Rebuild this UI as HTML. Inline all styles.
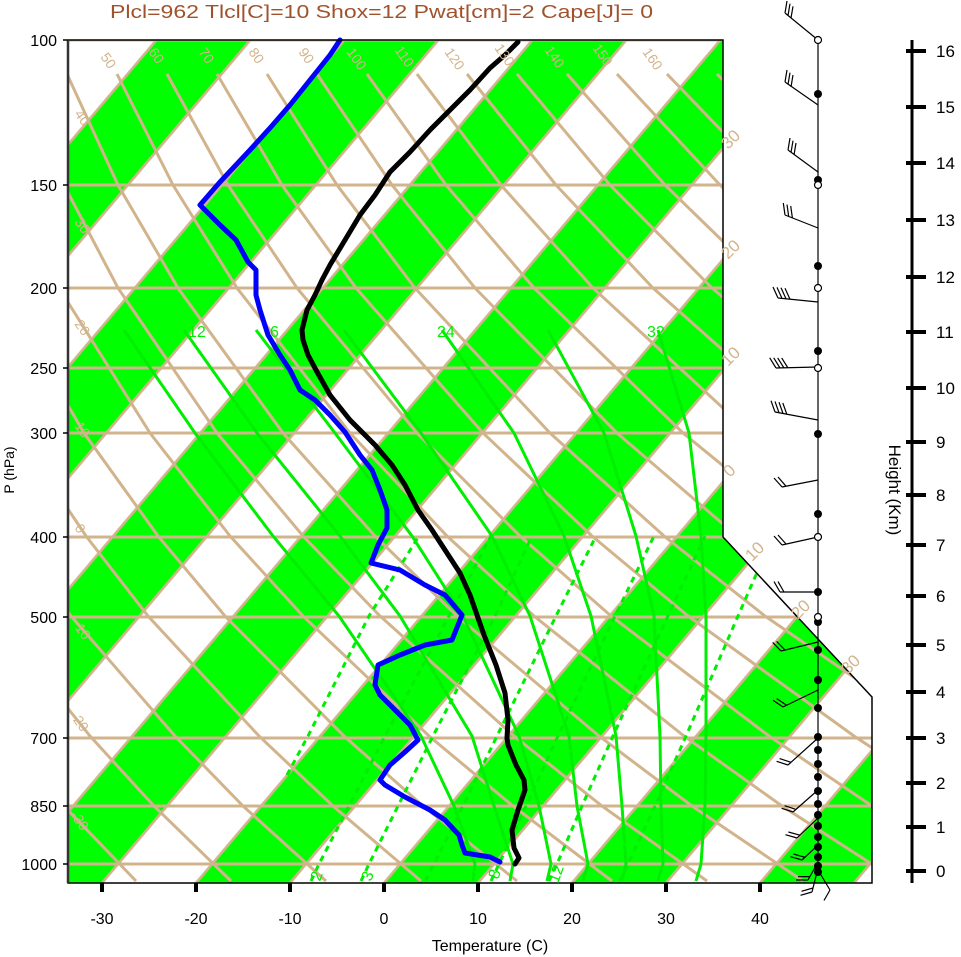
<!DOCTYPE html>
<html><head><meta charset="utf-8"><style>
html,body{margin:0;padding:0;background:#fff;}
svg{display:block;font-family:"Liberation Sans",sans-serif;}
</style></head><body>
<svg width="961" height="957" viewBox="0 0 961 957" xmlns="http://www.w3.org/2000/svg">
<defs>
<clipPath id="cp"><polygon points="68,40 723,40 723,537 872,697 872,883 68,883"/></clipPath>
<pattern id="band" patternUnits="userSpaceOnUse" x="0" y="0" width="188" height="20" patternTransform="translate(384,883) skewX(-40.2)"><rect x="0" y="0" width="94" height="20" fill="#00ff00"/></pattern>
<pattern id="iso" patternUnits="userSpaceOnUse" x="0" y="0" width="94" height="20" patternTransform="translate(384,883) skewX(-40.2)"><rect x="0" y="0" width="1.7" height="20" fill="#d2b48c"/><rect x="92.3" y="0" width="1.7" height="20" fill="#d2b48c"/></pattern>
</defs>
<rect width="961" height="957" fill="#fff"/>
<g clip-path="url(#cp)">
<rect x="60" y="30" width="820" height="860" fill="url(#band)"/>
<rect x="60" y="30" width="820" height="860" fill="url(#iso)"/>
<g fill="none" stroke="#d2b48c" stroke-width="3">
<polyline points="40,881 -26,806 -80,736 -160,616 -204,536 -250,433 -297,288 -319,185 -334,74"/>
<polyline points="136,881 64,806 5,736 -83,616 -131,536 -183,433 -238,288 -265,185 -284,74"/>
<polyline points="231,881 154,806 90,736 -6,616 -59,536 -117,433 -178,288 -210,185 -234,74"/>
<polyline points="326,881 243,806 175,736 71,616 13,536 -50,433 -119,288 -155,185 -184,74"/>
<polyline points="421,881 333,806 259,736 148,616 86,536 17,433 -60,288 -100,185 -134,74"/>
<polyline points="517,881 423,806 344,736 225,616 158,536 84,433 0,288 -46,185 -84,74"/>
<polyline points="612,881 513,806 429,736 303,616 230,536 150,433 59,288 9,185 -33,74"/>
<polyline points="707,881 602,806 514,736 380,616 303,536 217,433 118,288 64,185 17,74"/>
<polyline points="803,881 692,806 599,736 457,616 375,536 283,433 178,288 118,185 67,74"/>
<polyline points="898,881 782,806 684,736 534,616 447,536 350,433 237,288 173,185 117,74"/>
<polyline points="993,881 872,806 769,736 611,616 520,536 417,433 297,288 228,185 167,74"/>
<polyline points="1089,881 961,806 854,736 688,616 592,536 483,433 356,288 282,185 217,74"/>
<polyline points="1184,881 1051,806 939,736 765,616 664,536 550,433 415,288 337,185 267,74"/>
<polyline points="1279,881 1141,806 1023,736 842,616 737,536 617,433 475,288 392,185 317,74"/>
<polyline points="1374,881 1230,806 1108,736 919,616 809,536 683,433 534,288 446,185 367,74"/>
<polyline points="1470,881 1320,806 1193,736 996,616 882,536 750,433 593,288 501,185 417,74"/>
<polyline points="1565,881 1410,806 1278,736 1073,616 954,536 816,433 653,288 556,185 467,74"/>
<polyline points="1660,881 1500,806 1363,736 1150,616 1026,536 883,433 712,288 610,185 517,74"/>
<polyline points="1756,881 1589,806 1448,736 1227,616 1098,536 950,433 771,288 665,185 567,74"/>
<polyline points="1851,881 1679,806 1533,736 1304,616 1171,536 1016,433 831,288 720,185 617,74"/>
<polyline points="1946,881 1769,806 1618,736 1381,616 1243,536 1083,433 890,288 774,185 667,74"/>
<polyline points="2042,881 1859,806 1703,736 1458,616 1315,536 1149,433 950,288 829,185 717,74"/>
</g>
<g stroke="#d2b48c" stroke-width="3">
<line x1="68" y1="40" x2="872" y2="40"/><line x1="68" y1="185" x2="872" y2="185"/><line x1="68" y1="288" x2="872" y2="288"/><line x1="68" y1="368" x2="872" y2="368"/><line x1="68" y1="433" x2="872" y2="433"/><line x1="68" y1="537" x2="872" y2="537"/><line x1="68" y1="617" x2="872" y2="617"/><line x1="68" y1="738" x2="872" y2="738"/><line x1="68" y1="806" x2="872" y2="806"/><line x1="68" y1="864" x2="872" y2="864"/>
</g>
<g fill="none" stroke="#00ee00" stroke-width="3">
<polyline points="473,881 475,864 454,806 421,736 339,616 273,536 195,433 124,330"/>
<polyline points="510,881 513,864 494,806 472,736 400,616 340,536 257,433 184,330"/>
<polyline points="547,881 551,864 539,806 519,736 463,616 412,536 335,433 256,330"/>
<polyline points="583,881 588,864 577,806 569,736 530,616 492,536 421,433 344,330"/>
<polyline points="622,881 626,864 622,806 616,736 591,616 564,536 514,433 442,330"/>
<polyline points="658,881 663,864 661,806 660,736 654,616 636,536 604,433 548,330"/>
<polyline points="696,881 701,864 705,806 706,736 706,616 701,536 689,433 658,330"/>
</g>
<g fill="none" stroke="#00ee00" stroke-width="3" stroke-dasharray="6,5">
<polyline points="287,775 308,736 369,616 419,536"/>
<polyline points="311,881 319,864 349,806 385,736 449,616 491,536"/>
<polyline points="361,881 369,864 398,806 433,736 495,616 532,536"/>
<polyline points="425,881 434,864 463,806 497,736 556,616 596,536"/>
<polyline points="491,881 499,864 526,806 558,736 615,616 654,536"/>
<polyline points="549,881 557,864 582,806 613,736 668,616 705,536"/>
<polyline points="620,881 628,864 655,806 686,736 738,616 773,536"/>
</g>
</g>
<!-- profiles -->
<polyline points="500,862 490,857 465,853 462,845 459,835 445,820 430,810 405,797 385,785 380,780 390,765 405,752 418,740 410,725 395,710 380,695 375,685 378,665 400,655 425,645 452,640 462,615 445,595 425,585 400,570 371,563 378,545 387,528 387,510 380,490 372,470 360,455 345,432 330,415 315,400 300,390 290,370 280,355 268,335 260,310 256,295 256,270 248,262 236,240 220,225 200,205 220,182 250,150 270,128 290,105 310,80 330,55 340,40" fill="none" stroke="#0000ff" stroke-width="5" stroke-linejoin="round" stroke-linecap="round"/>
<polyline points="515,864 519,858 514,848 512,830 518,810 525,790 524,780 516,765 508,745 507,738 508,720 505,693 496,665 484,635 470,595 460,573 445,550 432,530 418,510 405,485 392,465 375,445 350,420 330,395 316,370 308,355 303,340 302,330 307,310 315,295 322,280 330,265 345,240 360,215 375,195 390,172 410,152 430,130 450,110 470,90 490,68 505,55 518,42" fill="none" stroke="#000" stroke-width="5" stroke-linejoin="round" stroke-linecap="round"/>
<!-- frame -->
<polyline points="68,40 723,40 723,537 872,697 872,883 68,883 68,40" fill="none" stroke="#000" stroke-width="1.5"/>
<line x1="68" y1="40" x2="68" y2="883" stroke="#333" stroke-width="2.5"/>
<g stroke="#000" stroke-width="4">
<line x1="102" y1="883" x2="102" y2="892"/><line x1="196" y1="883" x2="196" y2="892"/><line x1="290" y1="883" x2="290" y2="892"/><line x1="384" y1="883" x2="384" y2="892"/><line x1="478" y1="883" x2="478" y2="892"/><line x1="572" y1="883" x2="572" y2="892"/><line x1="666" y1="883" x2="666" y2="892"/><line x1="760" y1="883" x2="760" y2="892"/>
</g>
<g stroke="#000" stroke-width="1.5">
<line x1="63" y1="40" x2="68" y2="40"/><line x1="63" y1="185" x2="68" y2="185"/><line x1="63" y1="288" x2="68" y2="288"/><line x1="63" y1="368" x2="68" y2="368"/><line x1="63" y1="433" x2="68" y2="433"/><line x1="63" y1="537" x2="68" y2="537"/><line x1="63" y1="617" x2="68" y2="617"/><line x1="63" y1="738" x2="68" y2="738"/><line x1="63" y1="806" x2="68" y2="806"/><line x1="63" y1="864" x2="68" y2="864"/>
</g>
<g font-size="16" fill="#000" text-anchor="end">
<text x="57" y="46">100</text><text x="57" y="191">150</text><text x="57" y="294">200</text><text x="57" y="374">250</text><text x="57" y="439">300</text><text x="57" y="543">400</text><text x="57" y="623">500</text><text x="57" y="744">700</text><text x="57" y="812">850</text><text x="57" y="870">1000</text>
</g>
<g font-size="16" fill="#000" text-anchor="middle">
<text x="102" y="924">-30</text><text x="196" y="924">-20</text><text x="290" y="924">-10</text><text x="384" y="924">0</text><text x="478" y="924">10</text><text x="572" y="924">20</text><text x="666" y="924">30</text><text x="760" y="924">40</text>
<text x="490" y="951">Temperature (C)</text>
</g>
<text transform="translate(14,470) rotate(-90)" font-size="14" text-anchor="middle">P (hPa)</text>
<text x="110" y="18" font-size="18" fill="#a0522d" textLength="543" lengthAdjust="spacingAndGlyphs">Plcl=962 Tlcl[C]=10 Shox=12 Pwat[cm]=2 Cape[J]= 0</text>
<g font-size="14" fill="#d2b48c">
<text transform="translate(100,57) rotate(55)">50</text><text transform="translate(148,52) rotate(55)">60</text><text transform="translate(198,52) rotate(55)">70</text><text transform="translate(248,52) rotate(55)">80</text><text transform="translate(298,52) rotate(55)">90</text><text transform="translate(346,52) rotate(55)">100</text><text transform="translate(394,50) rotate(55)">110</text><text transform="translate(444,52) rotate(55)">120</text><text transform="translate(494,48) rotate(55)">130</text><text transform="translate(544,50) rotate(55)">140</text><text transform="translate(592,48) rotate(55)">150</text><text transform="translate(642,52) rotate(55)">160</text>
<text transform="translate(74,114) rotate(55)">40</text><text transform="translate(74,222) rotate(55)">30</text><text transform="translate(74,324) rotate(55)">20</text><text transform="translate(74,426) rotate(55)">10</text><text transform="translate(74,528) rotate(55)">0</text><text transform="translate(72,624) rotate(55)">-10</text><text transform="translate(70,716) rotate(55)">-20</text><text transform="translate(70,815) rotate(55)">-30</text>
</g>
<g font-size="17" fill="#d2b48c">
<text transform="translate(728,150) rotate(-45)">30</text><text transform="translate(728,260) rotate(-45)">20</text><text transform="translate(728,367) rotate(-45)">10</text><text transform="translate(730,478) rotate(-45)">0</text>
<text transform="translate(752,562) rotate(-45)">10</text><text transform="translate(798,620) rotate(-45)">20</text><text transform="translate(848,675) rotate(-45)">30</text>
</g>
<g font-size="16" fill="#00ee00">
<text x="188" y="337">12</text><text x="270" y="337">6</text><text x="437" y="337">24</text><text x="647" y="337">32</text>
<text transform="translate(320,882) rotate(-70)">2</text><text transform="translate(371,882) rotate(-70)">3</text><text transform="translate(498,880) rotate(-70)">8</text><text transform="translate(558,884) rotate(-70)">12</text>
</g>
<!-- wind -->
<line x1="818" y1="40" x2="818" y2="870" stroke="#000" stroke-width="1.2"/>
<g stroke="#000" stroke-width="1.2" fill="none">
<path d="M818,40L785,13M785,13L787,1M788,15.5L790,3.7M791,18L793,6.3"/>
<path d="M818,105L785,82M785,82L787,70M788,84.5L790,72.7M791,87L793,75"/>
<path d="M818,172L788,150M788,150L790,138M791,152.5L793,140.7M794,155L796,143"/>
<path d="M818,228L785,215M785,215L783.3,203M788.7,216.5L787,204.6M792.4,218L790.7,206"/>
<path d="M818,302L778,298M778,298L773,287M782,298.4L777,287.4M786,298.8L781,287.8M790,299.2L785,288.2"/>
<path d="M818,367L776,368M776,368L769.7,357.8M780,368L773.7,357.8M784,368L777.7,357.9M788,368L781.7,357.9"/>
<path d="M818,420L775,412M775,412L771,400.7M779,412.7L775,401.4M783,413.5L779,402.2M786.8,414.2L782.8,403"/>
<path d="M818,480L782,487M782,487L774,478M786,486.2L778,477"/>
<path d="M818,537L782,545M782,545L774,536M786,544L778,535"/>
<path d="M818,592L780,592M780,592L774,581.6M784,592L778,581.6"/>
<path d="M818,642L781,651M781,651L772.7,642.4M785,650L776.6,641.4"/>
<path d="M818,690L783,707M783,707L773,700.3M786.6,705.3L776.7,698.6"/>
<path d="M818,738L788,765M788,765L776.6,761.3M791,762.3L779.6,758.6"/>
<path d="M818,790L793,812M793,812L781.6,808.3M796,809.4L784.6,805.7"/>
<path d="M818,818L797,838M797,838L785.5,834.7M800,835.2L788.4,832"/>
<path d="M818,845L802,860M802,860L790.5,856.7M805,857.3L793.4,854"/>
<path d="M818,862L808,880M808,880L796,880M810,876.5L798,876.7"/>
<path d="M818,868L812,892M812,892L800.5,895.3M813,888L801.5,891.3"/>
<path d="M818,870L830,890M830,890L824,900.5"/>
</g>
<g fill="#000">
<circle cx="818" cy="94" r="4"/><circle cx="818" cy="180" r="4"/><circle cx="818" cy="266" r="4"/><circle cx="818" cy="351" r="4"/><circle cx="818" cy="434" r="4"/><circle cx="818" cy="514" r="4"/><circle cx="818" cy="592" r="4"/><circle cx="818" cy="622" r="4"/><circle cx="818" cy="650" r="4"/><circle cx="818" cy="680" r="4"/><circle cx="818" cy="708" r="4"/><circle cx="818" cy="737" r="4"/><circle cx="818" cy="750" r="4"/><circle cx="818" cy="764" r="4"/><circle cx="818" cy="777" r="4"/><circle cx="818" cy="791" r="4"/><circle cx="818" cy="804" r="4"/><circle cx="818" cy="815" r="4"/><circle cx="818" cy="826" r="4"/><circle cx="818" cy="837" r="4"/><circle cx="818" cy="847" r="4"/><circle cx="818" cy="857" r="4"/><circle cx="818" cy="866" r="4"/><circle cx="818" cy="872" r="4"/>
</g>
<g fill="#fff" stroke="#000" stroke-width="1.2">
<circle cx="818" cy="40" r="3.5"/><circle cx="818" cy="185" r="3.5"/><circle cx="818" cy="288" r="3.5"/><circle cx="818" cy="368" r="3.5"/><circle cx="818" cy="537" r="3.5"/><circle cx="818" cy="617" r="3.5"/>
</g>
<line x1="912" y1="40" x2="912" y2="883" stroke="#000" stroke-width="3"/>
<g stroke="#000" stroke-width="4">
<line x1="906" y1="871" x2="926" y2="871"/><line x1="906" y1="827" x2="926" y2="827"/><line x1="906" y1="783" x2="926" y2="783"/><line x1="906" y1="738" x2="926" y2="738"/><line x1="906" y1="692" x2="926" y2="692"/><line x1="906" y1="645" x2="926" y2="645"/><line x1="906" y1="596" x2="926" y2="596"/><line x1="906" y1="545" x2="926" y2="545"/><line x1="906" y1="495" x2="926" y2="495"/><line x1="906" y1="442" x2="926" y2="442"/><line x1="906" y1="388" x2="926" y2="388"/><line x1="906" y1="332" x2="926" y2="332"/><line x1="906" y1="277" x2="926" y2="277"/><line x1="906" y1="220" x2="926" y2="220"/><line x1="906" y1="163" x2="926" y2="163"/><line x1="906" y1="107" x2="926" y2="107"/><line x1="906" y1="51" x2="926" y2="51"/>
</g>
<g font-size="17" fill="#000">
<text x="936" y="877">0</text><text x="936" y="833">1</text><text x="936" y="789">2</text><text x="936" y="744">3</text><text x="936" y="698">4</text><text x="936" y="651">5</text><text x="936" y="602">6</text><text x="936" y="551">7</text><text x="936" y="501">8</text><text x="936" y="448">9</text><text x="936" y="394">10</text><text x="936" y="338">11</text><text x="936" y="283">12</text><text x="936" y="226">13</text><text x="936" y="169">14</text><text x="936" y="113">15</text><text x="936" y="57">16</text>
</g>
<text transform="translate(889,490) rotate(90)" font-size="17" text-anchor="middle">Height (Km)</text>
</svg>
</body></html>
